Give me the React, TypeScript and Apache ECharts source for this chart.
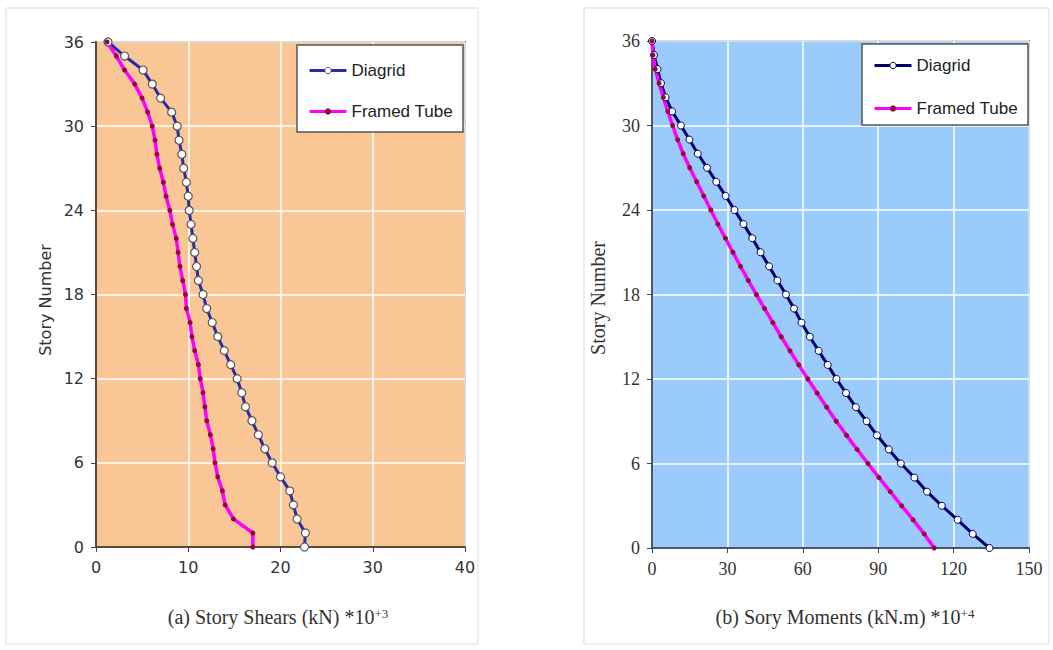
import React, { useEffect, useRef } from "react";
import * as echarts from "echarts";

// Story numbers (0 = base, 36 = roof)
const stories = [0, 1, 2, 3, 4, 5, 6, 7, 8, 9, 10, 11, 12, 13, 14, 15, 16, 17, 18, 19, 20, 21, 22, 23, 24, 25, 26, 27, 28, 29, 30, 31, 32, 33, 34, 35, 36];

// (a) Story shears (kN) *10^3, indexed by story 0..36
const shearDiagrid = [22.6, 22.7, 21.8, 21.4, 21.0, 20.0, 19.1, 18.3, 17.6, 16.9, 16.2, 15.8, 15.3, 14.6, 13.9, 13.2, 12.6, 12.0, 11.6, 11.1, 10.9, 10.7, 10.5, 10.3, 10.1, 10.0, 9.8, 9.5, 9.3, 9.0, 8.8, 8.2, 7.0, 6.1, 5.1, 3.1, 1.3];
const shearFramed = [17.0, 17.0, 14.9, 14.0, 13.7, 13.2, 12.9, 12.7, 12.4, 12.0, 11.8, 11.6, 11.3, 11.1, 10.7, 10.4, 10.2, 9.8, 9.7, 9.4, 9.1, 8.9, 8.7, 8.3, 8.0, 7.6, 7.3, 6.9, 6.6, 6.4, 6.1, 5.6, 5.0, 4.2, 3.1, 2.2, 1.2];

// (b) Story moments (kN.m) *10^4, indexed by story 0..36
const momentDiagrid = [134.3, 127.6, 121.6, 115.3, 109.4, 104.4, 99.0, 94.2, 89.5, 85.4, 81.1, 77.2, 73.4, 69.9, 66.3, 62.8, 59.5, 56.5, 53.3, 49.9, 46.6, 43.2, 39.9, 36.4, 32.8, 29.3, 25.6, 21.9, 18.2, 14.9, 11.5, 8.0, 5.4, 3.6, 2.2, 0.8, 0.0];
const momentFramed = [112.3, 108.3, 103.9, 99.3, 94.8, 90.3, 85.9, 81.6, 77.4, 73.3, 69.5, 65.7, 62.0, 58.4, 54.9, 51.4, 48.1, 44.8, 41.5, 38.3, 35.2, 32.2, 29.2, 26.2, 23.4, 20.6, 17.8, 15.0, 12.4, 10.2, 8.2, 6.3, 4.5, 2.8, 1.3, 0.4, 0.0];

const seriesNames = ["Diagrid", "Framed Tube"];
const storyTicks = [0, 6, 12, 18, 24, 30, 36];
const shearTicks = [0, 10, 20, 30, 40];
const momentTicks = [0, 30, 60, 90, 120, 150];

const pairs = (xs: number[]) => xs.map((v, i) => [v, stories[i]]);

const SANS = "DejaVu Sans";
const SERIF = "Liberation Serif";
const LEG = "Liberation Sans";

export default function App() {
  const ref = useRef<HTMLDivElement>(null);
  useEffect(() => {
    if (!ref.current) return;
    const chart = echarts.init(ref.current, null, { renderer: "svg" });
    const yAxisBase = (grid: number, font: string, size: number, lineColor: string) => ({
      gridIndex: grid,
      type: "value",
      min: storyTicks[0],
      max: storyTicks[storyTicks.length - 1],
      interval: 6,
      axisLine: { show: true, onZero: false, lineStyle: { color: lineColor, width: 2 } },
      axisTick: { show: true, length: 5, lineStyle: { color: "#444" } },
      axisLabel: { margin: 12, color: "#333", fontFamily: font, fontSize: size },
      splitLine: { show: true, lineStyle: { color: "#ffffff", width: 1.5 } },
    });
    const option: any = {
      animation: false,
      backgroundColor: "#ffffff",
      grid: [
        { left: 96, top: 42, width: 369, height: 505, show: true, backgroundColor: "#F9C795", borderColor: "#6b5b4b", borderWidth: 2 },
        { left: 652, top: 41, width: 377, height: 507, show: true, backgroundColor: "#9BCBFA", borderColor: "#5f6f85", borderWidth: 2 },
      ],
      xAxis: [
        {
          gridIndex: 0,
          type: "value",
          min: shearTicks[0],
          max: shearTicks[shearTicks.length - 1],
          interval: 10,
          axisLine: { show: true, onZero: false, lineStyle: { color: "#5a4a3a", width: 2 } },
          axisTick: { show: true, length: 5, lineStyle: { color: "#444" } },
          axisLabel: { margin: 12, color: "#333", fontFamily: SANS, fontSize: 16 },
          splitLine: { show: true, lineStyle: { color: "#ffffff", width: 1.5 } },
        },
        {
          gridIndex: 1,
          type: "value",
          min: momentTicks[0],
          max: momentTicks[momentTicks.length - 1],
          interval: 30,
          axisLine: { show: true, onZero: false, lineStyle: { color: "#4a5566", width: 2 } },
          axisTick: { show: true, length: 5, lineStyle: { color: "#444" } },
          axisLabel: { margin: 12, color: "#333", fontFamily: SERIF, fontSize: 18 },
          splitLine: { show: true, lineStyle: { color: "#ffffff", width: 1.5 } },
        },
      ],
      yAxis: [yAxisBase(0, SANS, 16, "#5a4a3a"), yAxisBase(1, SERIF, 18, "#4a5566")],
      legend: [
        {
          orient: "vertical",
          left: 303,
          top: 57,
          itemWidth: 37,
          itemHeight: 8,
          itemGap: 24,
          textStyle: { fontFamily: LEG, fontSize: 17, color: "#222" },
          data: [
            { name: seriesNames[0], itemStyle: { color: "#ffffff", borderColor: "#555", borderWidth: 1 }, lineStyle: { color: "#2A2AB0", width: 3 } },
            { name: seriesNames[1], itemStyle: { color: "#8B0A3A", borderWidth: 0 }, lineStyle: { color: "#FF00FF", width: 3 } },
          ],
          selectedMode: false,
          z: 6,
        },
        {
          orient: "vertical",
          left: 868,
          top: 52,
          itemWidth: 37,
          itemHeight: 8,
          itemGap: 26,
          textStyle: { fontFamily: LEG, fontSize: 17, color: "#222" },
          data: [
            { name: seriesNames[0], itemStyle: { color: "#ffffff", borderColor: "#000066", borderWidth: 1 }, lineStyle: { color: "#000066", width: 3 } },
            { name: seriesNames[1], itemStyle: { color: "#8B0A3A", borderWidth: 0 }, lineStyle: { color: "#FF00FF", width: 3 } },
          ],
          selectedMode: false,
          z: 6,
        },
      ],
      graphic: [
        { type: "rect", z: -10, shape: { x: 6, y: 8, width: 472, height: 636 }, style: { fill: "none", stroke: "#dddddd", lineWidth: 1 } },
        { type: "rect", z: -10, shape: { x: 584, y: 8, width: 465, height: 636 }, style: { fill: "none", stroke: "#dddddd", lineWidth: 1 } },
        { type: "rect", z: 5, shape: { x: 297, y: 45, width: 166, height: 87 }, style: { fill: "#ffffff", stroke: "#555555", lineWidth: 1.5 } },
        { type: "rect", z: 5, shape: { x: 862, y: 44, width: 166, height: 81 }, style: { fill: "#ffffff", stroke: "#555555", lineWidth: 1.5 } },
        {
          type: "text",
          z: 5,
          x: 45,
          y: 300,
          rotation: Math.PI / 2,
          style: { text: "Story Number", fontFamily: SANS, fontSize: 16, fill: "#333", align: "center", verticalAlign: "middle" },
        },
        {
          type: "text",
          z: 5,
          x: 598,
          y: 298,
          rotation: Math.PI / 2,
          style: { text: "Story Number", fontFamily: SERIF, fontSize: 20, fill: "#333", align: "center", verticalAlign: "middle" },
        },
        {
          type: "text",
          z: 5,
          x: 278,
          y: 617,
          style: {
            text: "{a|(a) Story Shears (kN) *10}{s|+3}",
            align: "center",
            verticalAlign: "middle",
            rich: {
              a: { fontFamily: SERIF, fontSize: 20, fill: "#333" },
              s: { fontFamily: SERIF, fontSize: 13, fill: "#333", verticalAlign: "top" },
            },
          },
        },
        {
          type: "text",
          z: 5,
          x: 845,
          y: 617,
          style: {
            text: "{a|(b) Sory Moments (kN.m) *10}{s|+4}",
            align: "center",
            verticalAlign: "middle",
            rich: {
              a: { fontFamily: SERIF, fontSize: 20, fill: "#333" },
              s: { fontFamily: SERIF, fontSize: 13, fill: "#333", verticalAlign: "top" },
            },
          },
        },
      ],
      series: [
        {
          type: "line",
          name: seriesNames[0],
          xAxisIndex: 0,
          yAxisIndex: 0,
          data: pairs(shearDiagrid),
          symbol: "circle",
          symbolSize: 8,
          showAllSymbol: true,
          lineStyle: { color: "#2A2AB0", width: 3 },
          itemStyle: { color: "#ffffff", borderColor: "#555", borderWidth: 1.2 },
          z: 3,
        },
        {
          type: "line",
          name: seriesNames[1],
          xAxisIndex: 0,
          yAxisIndex: 0,
          data: pairs(shearFramed),
          symbol: "circle",
          symbolSize: 5,
          showAllSymbol: true,
          lineStyle: { color: "#FF00FF", width: 3.5 },
          itemStyle: { color: "#8B0A3A", borderWidth: 0 },
          z: 3,
        },
        {
          type: "line",
          name: seriesNames[0],
          xAxisIndex: 1,
          yAxisIndex: 1,
          data: pairs(momentDiagrid),
          symbol: "circle",
          symbolSize: 7,
          showAllSymbol: true,
          lineStyle: { color: "#000066", width: 3 },
          itemStyle: { color: "#ffffff", borderColor: "#000066", borderWidth: 1 },
          z: 3,
        },
        {
          type: "line",
          name: seriesNames[1],
          xAxisIndex: 1,
          yAxisIndex: 1,
          data: pairs(momentFramed),
          symbol: "circle",
          symbolSize: 5,
          showAllSymbol: true,
          lineStyle: { color: "#FF00FF", width: 3.5 },
          itemStyle: { color: "#8B0A3A", borderWidth: 0 },
          z: 3,
        },
      ],
    };
    chart.setOption(option);
    return () => chart.dispose();
  }, []);
  return <div ref={ref} style={{ position: "fixed", left: 0, top: 0, width: 1053, height: 650 }} />;
}
